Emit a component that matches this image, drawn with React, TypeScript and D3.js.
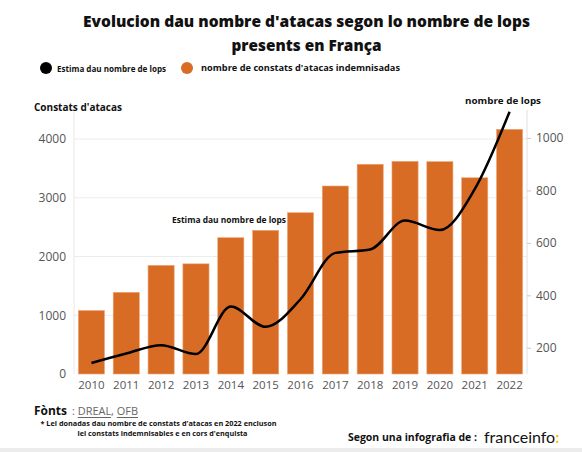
import React, { useRef, useEffect } from "react";
import * as d3 from "d3";

// data
const years = [2010, 2011, 2012, 2013, 2014, 2015, 2016, 2017, 2018, 2019, 2020, 2021, 2022];
const attacks = [1080, 1390, 1850, 1875, 2320, 2445, 2745, 3200, 3570, 3620, 3615, 3340, 4165];
const wolves = [142, 178, 210, 176, 357, 280, 385, 562, 575, 685, 649, 805, 1100];
const leftTicks = [0, 1000, 2000, 3000, 4000];
const rightTicks = [200, 400, 600, 800, 1000];

const W = 582;
const H = 452;
const ORANGE = "#d86c25";
const FONT = "'Open Sans', 'Noto Sans', sans-serif";

export default function App() {
  const ref = useRef<SVGSVGElement | null>(null);

  useEffect(() => {
    const svg = d3.select(ref.current);
    svg.selectAll("*").remove();

    const x = d3
      .scaleBand<number>()
      .domain(years)
      .range([74, 527])
      .paddingInner(0.25)
      .paddingOuter(0.125);
    const yL = d3.scaleLinear().domain([0, 4000]).range([374, 139]);
    const yR = d3.scaleLinear().domain([100, 1000]).range([374, 138]);
    const top = 111;

    // background
    svg.append("rect").attr("width", W).attr("height", H).attr("fill", "#fff");
    svg.append("rect").attr("y", 448).attr("width", W).attr("height", 4).attr("fill", "#ececec");

    // gridlines
    svg
      .append("g")
      .selectAll("line")
      .data(leftTicks.slice(1))
      .enter()
      .append("line")
      .attr("x1", 74)
      .attr("x2", 527)
      .attr("y1", (d) => yL(d))
      .attr("y2", (d) => yL(d))
      .attr("stroke", "#ececec")
      .attr("stroke-width", 1);

    // left axis
    const gl = svg
      .append("g")
      .attr("transform", "translate(74,0)")
      .call(
        d3
          .axisLeft(yL)
          .tickValues(leftTicks)
          .tickSize(0)
          .tickPadding(8)
          .tickFormat(d3.format("d")) as any
      );
    gl.select(".domain").attr("stroke", "#e8e8e8").attr("d", `M0,${top}V374`);
    gl.selectAll("text")
      .attr("fill", "#555")
      .style("font-size", "12px")
      .style("font-family", FONT);

    // right axis
    const gr = svg
      .append("g")
      .attr("transform", "translate(527,0)")
      .call(
        d3
          .axisRight(yR)
          .tickValues(rightTicks)
          .tickSize(4)
          .tickPadding(5)
          .tickFormat(d3.format("d")) as any
      );
    gr.select(".domain").attr("stroke", "#e0e0e0").attr("d", `M0,${top - 1}V374`);
    gr.selectAll("line").attr("stroke", "#ccc");
    gr.selectAll("text")
      .attr("fill", "#555")
      .style("font-size", "12px")
      .style("font-family", FONT);

    // bars
    svg
      .append("g")
      .selectAll("rect")
      .data(years)
      .enter()
      .append("rect")
      .attr("x", (d) => x(d)!)
      .attr("width", x.bandwidth())
      .attr("y", (d, i) => yL(attacks[i]))
      .attr("height", (d, i) => yL(0) - yL(attacks[i]))
      .attr("fill", ORANGE)
      .attr("stroke", "#eea676")
      .attr("stroke-width", 0.6);

    // x axis
    const gx = svg
      .append("g")
      .attr("transform", "translate(0,374)")
      .call(d3.axisBottom(x).tickSize(0).tickPadding(7).tickFormat(d3.format("d")) as any);
    gx.select(".domain").remove();
    gx.selectAll("text")
      .attr("fill", "#555")
      .style("font-size", "11.5px")
      .style("font-family", FONT);

    // wolves line
    const line = d3
      .line<number>()
      .x((d, i) => x(years[i])! + x.bandwidth() / 2)
      .y((d) => yR(d))
      .curve(d3.curveMonotoneX);
    svg
      .append("path")
      .datum(wolves)
      .attr("fill", "none")
      .attr("stroke", "#000")
      .attr("stroke-width", 2.5)
      .attr("d", line);

    const txt = (
      tx: number,
      ty: number,
      s: string,
      size: number,
      opts: { weight?: number; anchor?: string; fill?: string; len?: number; family?: string } = {}
    ) => {
      const t = svg
        .append("text")
        .attr("x", tx)
        .attr("y", ty)
        .attr("text-anchor", opts.anchor ?? "start")
        .attr("dominant-baseline", "central")
        .attr("fill", opts.fill ?? "#111")
        .style("font-family", opts.family ?? FONT)
        .style("font-weight", opts.weight ?? 700)
        .style("font-size", `${size}px`)
        .text(s);
      if (opts.len) t.attr("textLength", opts.len).attr("lengthAdjust", "spacingAndGlyphs");
      return t;
    };

    // title
    txt(306.5, 21, "Evolucion dau nombre d'atacas segon lo nombre de lops", 15.5, {
      anchor: "middle",
      len: 447,
      weight: 800,
    });
    txt(306.5, 44.5, "presents en França", 15.5, { anchor: "middle", len: 150, weight: 800 });

    // legend
    svg.append("circle").attr("cx", 46).attr("cy", 68).attr("r", 6).attr("fill", "#000");
    txt(57, 68, "Estima dau nombre de lops", 8, { len: 109 });
    svg.append("circle").attr("cx", 187).attr("cy", 68).attr("r", 6).attr("fill", ORANGE);
    txt(201, 67.5, "nombre de constats d'atacas indemnisadas", 8, { len: 199 });

    // axis titles and annotation
    txt(34, 106.5, "Constats d'atacas", 10, { len: 88 });
    txt(541, 100, "nombre de lops", 9.5, { anchor: "end", len: 76 });
    txt(172, 219, "Estima dau nombre de lops", 8.5, { len: 114 });

    // footer
    txt(34, 410, "Fònts", 12, { len: 33 });
    const src = svg
      .append("text")
      .attr("x", 72)
      .attr("y", 411)
      .attr("dominant-baseline", "central")
      .attr("fill", "#666")
      .style("font-family", FONT)
      .style("font-size", "10px")
      .attr("textLength", 66)
      .attr("lengthAdjust", "spacingAndGlyphs");
    src.append("tspan").text(": ");
    src.append("tspan").attr("text-decoration", "underline").text("DREAL");
    src.append("tspan").text(", ");
    src.append("tspan").attr("text-decoration", "underline").text("OFB");

    txt(40.5, 423.5, "*  Lei donadas dau nombre de constats d'atacas en 2022 encluson", 7, { len: 236 });
    txt(162.5, 433, "lei constats indemnisables e en cors d'enquista", 7, { anchor: "middle", len: 170 });

    txt(348, 437, "Segon una infografia de :", 10.5, { len: 129 });
    const fi = svg
      .append("text")
      .attr("x", 484)
      .attr("y", 436)
      .attr("dominant-baseline", "central")
      .attr("fill", "#111")
      .style("font-family", "Lato, 'Open Sans', sans-serif")
      .style("font-size", "16px")
      .style("font-weight", 400);
    fi.append("tspan").text("franceinfo");
    fi.append("tspan").attr("fill", "#ffc200").style("font-weight", 700).text(":");
  }, []);

  return (
    <svg
      ref={ref}
      width={W}
      height={H}
      style={{ position: "absolute", left: 0, top: 0, display: "block" }}
    />
  );
}
